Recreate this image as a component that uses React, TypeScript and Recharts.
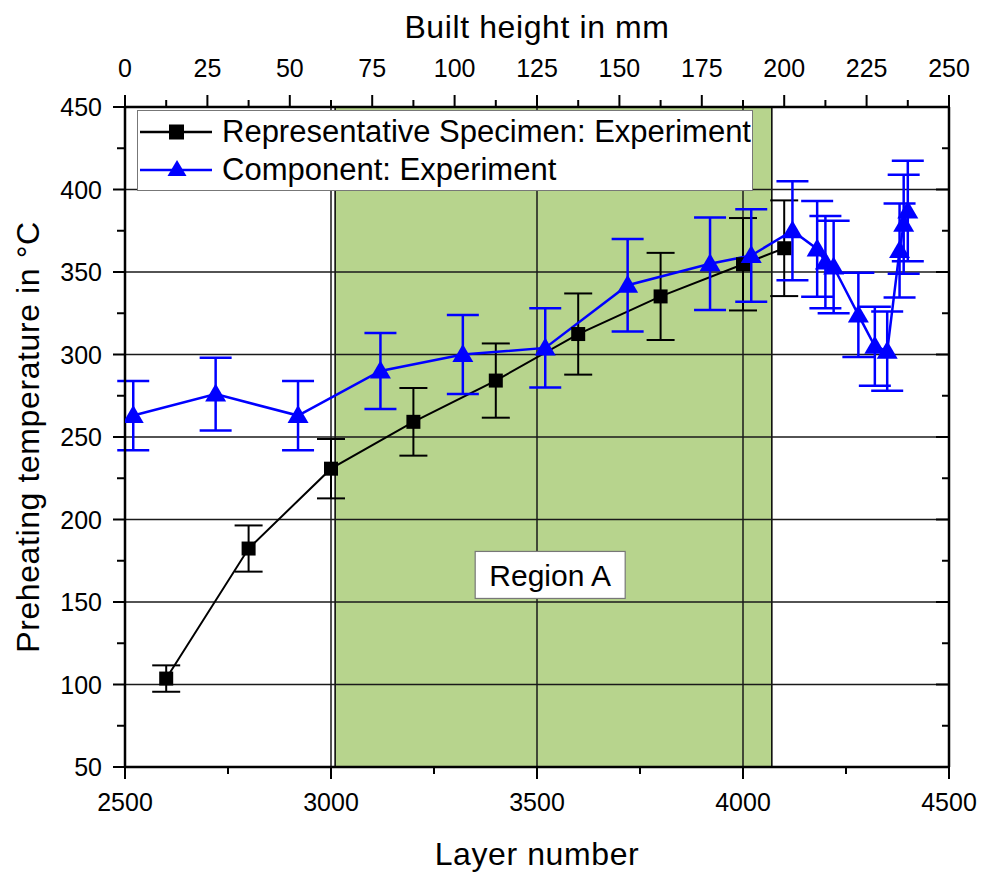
import {
  LineChart,
  Line,
  XAxis,
  YAxis,
  ErrorBar,
  ReferenceArea,
  ReferenceLine,
  ReferenceDot,
} from 'recharts'

// Representative specimen (black squares)
const specimenLayers = [2600, 2800, 3000, 3200, 3400, 3600, 3800, 4000, 4100]
const specimenTemps = [103.6, 182.4, 230.8, 259.2, 284.2, 312.4, 335.2, 354.7, 364.4]
const specimenErrors = [8, 14, 18, 20.5, 22.5, 24.6, 26.4, 28, 29]

// Component (blue triangles)
const componentLayers = [
  2520, 2720, 2920, 3120, 3320, 3520, 3720, 3920, 4020, 4120, 4180, 4200, 4220, 4280, 4320, 4350,
  4380, 4390, 4400,
]
const componentTemps = [
  263, 276, 263, 290, 300, 304, 342, 355, 360, 375, 364, 356, 353, 324, 305, 302, 363, 379, 387,
]
const componentErrors = [
  21, 22, 21, 23, 24, 24, 28, 28, 28, 30, 29, 28, 28, 25.5, 24, 24, 28.5, 30, 30.5,
]

// axes
const layerTicks = [2500, 2750, 3000, 3250, 3500, 3750, 4000, 4250, 4500]
const layerMajor = [2500, 3000, 3500, 4000, 4500]
const heightTicks = [0, 12.5, 25, 37.5, 50, 62.5, 75, 87.5, 100, 112.5, 125, 137.5, 150, 162.5, 175, 187.5, 200, 212.5, 225, 237.5, 250]
const heightMajor = [0, 25, 50, 75, 100, 125, 150, 175, 200, 225, 250]
const tempTicks = [50, 75, 100, 125, 150, 175, 200, 225, 250, 275, 300, 325, 350, 375, 400, 425, 450]
const tempMajor = [50, 100, 150, 200, 250, 300, 350, 400, 450]
const tempGrid = [100, 150, 200, 250, 300, 350, 400]
const layerGrid = [3000, 3500, 4000]

// Region A
const regionStart = 3010
const regionEnd = 4070
const regionLabelAt = { layer: 3532, temp: 166.4 }

const specimenData = specimenLayers.map((layer, i) => ({
  layer,
  temp: specimenTemps[i],
  err: specimenErrors[i],
}))
const componentData = componentLayers.map((layer, i) => ({
  layer,
  temp: componentTemps[i],
  err: componentErrors[i],
}))
// gives the top (built height) axis something to read
const heightData = heightTicks.map((height) => ({ height }))

const FONT = '"Liberation Sans", Arial, sans-serif'

const BottomTick = ({ x, y, payload }: any) => {
  const major = layerMajor.includes(payload.value)
  return (
    <g>
      <line x1={x} x2={x} y1={y} y2={y + (major ? 12 : 7)} stroke="#000" strokeWidth={2} />
      {major && (
        <text x={x} y={y + 44} textAnchor="middle" fontSize={25} fontFamily={FONT} fill="#000">
          {payload.value}
        </text>
      )}
    </g>
  )
}

const TopTick = ({ x, y, payload }: any) => {
  const major = heightMajor.includes(payload.value)
  return (
    <g>
      <line x1={x} x2={x} y1={y} y2={y - (major ? 12 : 7)} stroke="#000" strokeWidth={2} />
      {major && (
        <text x={x} y={y - 30} textAnchor="middle" fontSize={25} fontFamily={FONT} fill="#000">
          {payload.value}
        </text>
      )}
    </g>
  )
}

const LeftTick = ({ x, y, payload }: any) => {
  const major = tempMajor.includes(payload.value)
  return (
    <g>
      <line x1={x - (major ? 12 : 8)} x2={x} y1={y} y2={y} stroke="#000" strokeWidth={2} />
      {major && (
        <text x={x - 23} y={y + 9} textAnchor="end" fontSize={25} fontFamily={FONT} fill="#000">
          {payload.value}
        </text>
      )}
    </g>
  )
}

const RightTick = ({ x, y, payload }: any) => {
  const major = tempMajor.includes(payload.value)
  return <line x1={x - (major ? 13 : 7)} x2={x} y1={y} y2={y} stroke="#000" strokeWidth={2} />
}

const SquareDot = ({ cx, cy, index }: any) => (
  <rect key={`sq-${index}`} x={cx - 7} y={cy - 7} width={14} height={14} fill="#000" />
)

const TriangleDot = ({ cx, cy, index }: any) => (
  <path
    key={`tri-${index}`}
    d={`M${cx},${cy - 10.5} L${cx + 10.5},${cy + 7.5} L${cx - 10.5},${cy + 7.5} Z`}
    fill="#0000ff"
  />
)

const RegionLabel = ({ cx, cy }: any) => (
  <g>
    <rect x={cx - 75} y={cy - 23.5} width={150} height={47} fill="#fff" stroke="#777" strokeWidth={1.2} />
    <text x={cx} y={cy + 11} textAnchor="middle" fontSize={30} fontFamily={FONT} fill="#000">
      Region A
    </text>
  </g>
)

const LegendBox = () => (
  <div
    style={{
      position: 'absolute',
      left: 129,
      top: 102,
      width: 616,
      height: 81,
      background: '#fff',
      border: '1.5px solid #777',
      fontFamily: FONT,
      fontSize: 31,
      color: '#000',
      boxSizing: 'border-box',
    }}
  >
    <div style={{ display: 'flex', alignItems: 'center', height: 38, marginTop: 2 }}>
      <svg width={84} height={30}>
        <line x1={2} x2={74} y1={15} y2={15} stroke="#000" strokeWidth={2.5} />
        <rect x={31} y={7.5} width={15} height={15} fill="#000" />
      </svg>
      <span>Representative Specimen: Experiment</span>
    </div>
    <div style={{ display: 'flex', alignItems: 'center', height: 38 }}>
      <svg width={84} height={30}>
        <line x1={2} x2={74} y1={15} y2={15} stroke="#0000ff" strokeWidth={2.5} />
        <path d="M39,5 L48.5,21 L29.5,21 Z" fill="#0000ff" />
      </svg>
      <span>Component: Experiment</span>
    </div>
  </div>
)

export default function App() {
  return (
    <div style={{ position: 'relative', width: 984, height: 867, fontFamily: FONT }}>
      <LineChart
        width={984}
        height={860}
        data={heightData}
        margin={{ top: 0, right: 0, bottom: 0, left: 0 }}
      >
        <XAxis
          dataKey="layer"
          type="number"
          domain={[2500, 4500]}
          ticks={layerTicks}
          interval={0}
          tickSize={0}
          tickMargin={0}
          tick={<BottomTick />}
          height={101}
          axisLine={{ stroke: '#000', strokeWidth: 2.5 }}
          allowDataOverflow
        />
        <XAxis
          xAxisId="top"
          dataKey="height"
          orientation="top"
          type="number"
          domain={[0, 250]}
          ticks={heightTicks}
          interval={0}
          tickSize={0}
          tickMargin={0}
          tick={<TopTick />}
          height={99}
          axisLine={{ stroke: '#000', strokeWidth: 2.5 }}
          allowDataOverflow
        />
        <YAxis
          type="number"
          domain={[50, 450]}
          ticks={tempTicks}
          interval={0}
          tickSize={0}
          tickMargin={0}
          tick={<LeftTick />}
          width={117}
          axisLine={{ stroke: '#000', strokeWidth: 2.5 }}
          allowDataOverflow
        />
        <YAxis
          yAxisId="right"
          orientation="right"
          type="number"
          domain={[50, 450]}
          ticks={tempTicks}
          interval={0}
          tickSize={0}
          tickMargin={0}
          tick={<RightTick />}
          width={43}
          axisLine={{ stroke: '#000', strokeWidth: 2.5 }}
          allowDataOverflow
        />
        <ReferenceArea
          x1={regionStart}
          x2={regionEnd}
          y1={50}
          y2={450}
          fill="#b7d48d"
          fillOpacity={1}
          stroke="#000"
          strokeWidth={1.5}
        />
        {tempGrid.map((v) => (
          <ReferenceLine key={`h-${v}`} y={v} stroke="#1a1a1a" strokeWidth={1.5} />
        ))}
        {layerGrid.map((v) => (
          <ReferenceLine key={`v-${v}`} x={v} stroke="#1a1a1a" strokeWidth={1.5} />
        ))}
        <Line
          data={specimenData}
          dataKey="temp"
          type="linear"
          stroke="#000"
          strokeWidth={2}
          dot={SquareDot}
          activeDot={false}
          isAnimationActive={false}
        >
          <ErrorBar dataKey="err" width={14} stroke="#000" strokeWidth={2} direction="y" />
        </Line>
        <Line
          data={componentData}
          dataKey="temp"
          type="linear"
          stroke="#0000ff"
          strokeWidth={2.5}
          dot={TriangleDot}
          activeDot={false}
          isAnimationActive={false}
        >
          <ErrorBar dataKey="err" width={16} stroke="#0000ff" strokeWidth={2.5} direction="y" />
        </Line>
        <ReferenceDot
          x={regionLabelAt.layer}
          y={regionLabelAt.temp}
          r={0}
          shape={RegionLabel}
        />
      </LineChart>
      <LegendBox />
      <svg
        width={984}
        height={867}
        style={{ position: 'absolute', left: 0, top: 0, pointerEvents: 'none' }}
      >
        <text x={529} y={30} textAnchor="middle" fontSize={32} letterSpacing={0.6} fontFamily={FONT}>
          Built height in mm
        </text>
        <text x={529} y={857} textAnchor="middle" fontSize={32} letterSpacing={0.6} fontFamily={FONT}>
          Layer number
        </text>
        <text
          x={0}
          y={0}
          transform="translate(31 429) rotate(-90)"
          textAnchor="middle"
          fontSize={32}
          letterSpacing={0.6}
          fontFamily={FONT}
        >
          Preheating temperature in °C
        </text>
      </svg>
    </div>
  )
}
